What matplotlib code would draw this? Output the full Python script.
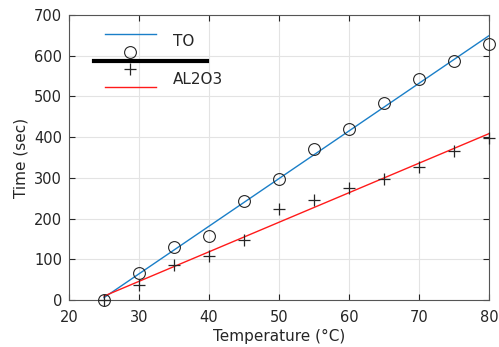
import numpy as np
import matplotlib
matplotlib.use("Agg")
import matplotlib.pyplot as plt
from matplotlib.lines import Line2D

plt.rcParams["font.family"] = ["DejaVu Sans"]

# Measured times for the two fluids
temperature = [25, 30, 35, 40, 45, 50, 55, 60, 65, 70, 75, 80]
time_to = [0, 67, 130, 157, 243, 298, 372, 420, 485, 542, 586, 630]
time_al2o3 = [0, 38, 85, 109, 147, 223, 245, 274, 296, 326, 367, 399]

x_ticks = [20, 30, 40, 50, 60, 70, 80]
y_ticks = [0, 100, 200, 300, 400, 500, 600, 700]

blue = "#1a7fc8"
red = "#ff1a1a"
ink = "#262626"

fig = plt.figure(figsize=(4.99, 3.47), dpi=100)
ax = fig.add_axes([69 / 499, 1 - 300 / 347, 420 / 499, 285 / 347])

t = np.array(temperature, dtype=float)
fit_to = np.polyval(np.polyfit(t, time_to, 1), t)
fit_al = np.polyval(np.polyfit(t, time_al2o3, 1), t)

ax.plot(t, fit_to, color=blue, linewidth=1.0, zorder=3)
ax.plot(t, fit_al, color=red, linewidth=1.0, zorder=3)
ax.plot(t, time_to, linestyle="none", marker="o", markersize=8.5,
        markerfacecolor="none", markeredgecolor=ink, markeredgewidth=0.8,
        zorder=4, clip_on=False)
ax.plot(t, time_al2o3, linestyle="none", marker="+", markersize=9,
        color=ink, markeredgewidth=0.9, zorder=4, clip_on=False)

ax.set_xlim(20, 80)
ax.set_ylim(0, 700)
ax.set_xticks(x_ticks)
ax.set_yticks(y_ticks)
ax.grid(True, color="#e3e3e3", linewidth=0.8)
ax.set_axisbelow(True)
ax.tick_params(direction="in", top=True, right=True, length=4, width=0.8,
               color=ink, labelsize=10.5, labelcolor=ink, pad=5)
ax.tick_params(axis="x", pad=7)
for spine in ax.spines.values():
    spine.set_color("#555555")
    spine.set_linewidth(0.8)

ax.set_xlabel("Temperature (°C)", fontsize=11, color=ink, labelpad=3)
ax.set_ylabel("Time (sec)", fontsize=11, color=ink, labelpad=4)

# Hand-built legend block
tr = ax.transAxes
legend_items = [
    Line2D([0.086, 0.207], [0.932, 0.932], color=blue, linewidth=1.0),
    Line2D([0.145], [0.871], linestyle="none", marker="o", markersize=8.5,
           markerfacecolor="none", markeredgecolor=ink, markeredgewidth=0.8),
    Line2D([0.060, 0.329], [0.8375, 0.8375], color="black", linewidth=3.0),
    Line2D([0.145], [0.8095], linestyle="none", marker="+", markersize=9,
           color=ink, markeredgewidth=0.9),
    Line2D([0.086, 0.207], [0.746, 0.746], color=red, linewidth=1.0),
]
for item in legend_items:
    item.set_transform(tr)
    item.set_clip_on(False)
    ax.add_line(item)
ax.text(0.247, 0.906, "TO", transform=tr, fontsize=11, color=ink, va="center")
ax.text(0.247, 0.772, "AL2O3", transform=tr, fontsize=11, color=ink, va="center")

fig.savefig("out.png", dpi=100)
